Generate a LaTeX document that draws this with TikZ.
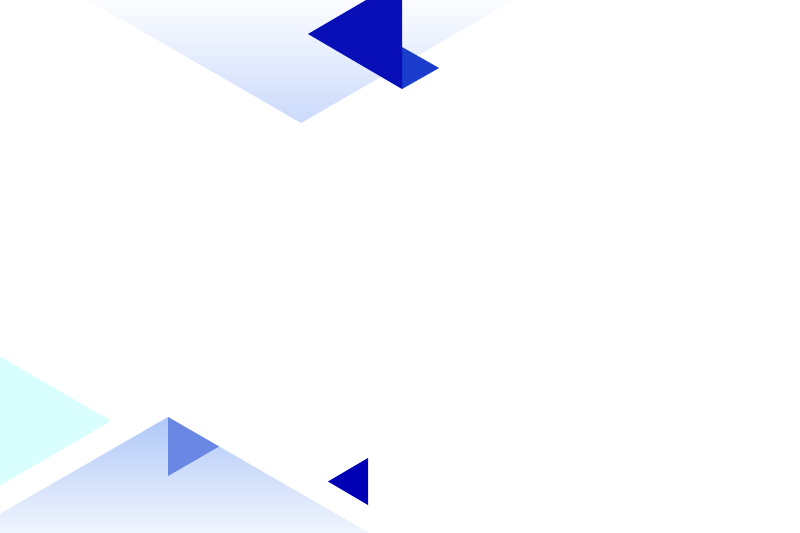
\documentclass[tikz,border=0pt]{standalone}
\usetikzlibrary{shadings}
\definecolor{deepblue}{HTML}{040BB6}
\definecolor{royalblue}{HTML}{1A3DCC}
\definecolor{midblue}{HTML}{6A87E3}
\definecolor{navyblue}{HTML}{0000B4}
\definecolor{paleblue}{HTML}{CBDAFB}
\definecolor{skyblue}{HTML}{B0C8F8}
\definecolor{palecyan}{HTML}{D9FEFE}
\begin{document}
\begin{tikzpicture}[x=0.375mm,y=-0.375mm]
            % Define frame
            \useasboundingbox (0,0) rectangle (800,533);
            \clip (0,0) rectangle (800,533);
            \fill[white] (0,0) rectangle (800,533);

            % Define vertices
            \coordinate (TL) at (71,-10);
            \coordinate (TR) at (531,-10);
            \coordinate (TA) at (301,123);
            \coordinate (BL) at (-80,560);
            \coordinate (BR) at (416,560);
            \coordinate (BA) at (168,417);

            % Draw large shaded triangles
            \shade[top color=white, bottom color=paleblue] (TL) -- (TR) -- (TA) -- cycle;
            \shade[top color=skyblue, bottom color=white] (BA) -- (BR) -- (BL) -- cycle;

            % Draw cyan triangle
            \fill[palecyan] (-20,345) -- (111,421) -- (-20,497) -- cycle;

            % Draw small triangles
            \fill[royalblue] (402,47) -- (439,68) -- (402,89) -- cycle;
            \fill[deepblue, opacity=0.98] (402,-21) -- (402,89) -- (308,34) -- cycle;
            \fill[midblue] (BA) -- (219,446.5) -- (168,476) -- cycle;
            \fill[navyblue] (368,458) -- (368,505) -- (328,481.5) -- cycle;
        \end{tikzpicture}
\end{document}
